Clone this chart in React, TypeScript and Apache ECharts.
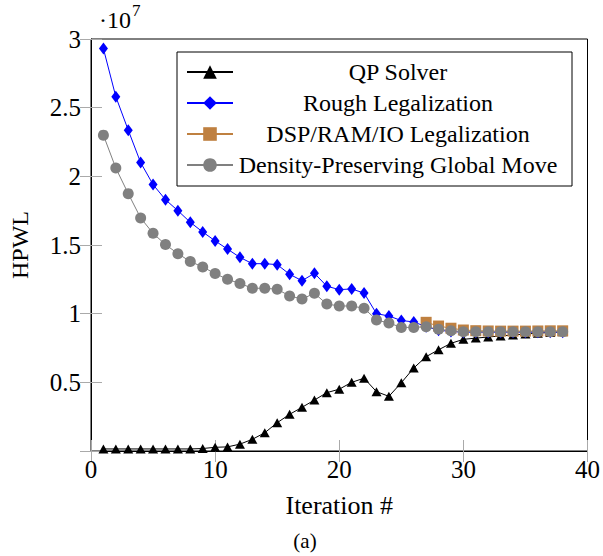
import React, { useEffect, useRef } from "react";
import * as echarts from "echarts";

// iteration numbers
const iterations = Array.from({ length: 38 }, (_, i) => i + 1);
const dspIterations = [27, 28, 29, 30, 31, 32, 33, 34, 35, 36, 37, 38];

// HPWL values in units of 10^7
const qpSolver = [
  0.015, 0.015, 0.015, 0.015, 0.015, 0.015, 0.015, 0.015, 0.018, 0.027,
  0.03, 0.05, 0.085, 0.133, 0.206, 0.267, 0.318, 0.371, 0.425, 0.45,
  0.5, 0.53, 0.432, 0.398, 0.497, 0.604, 0.687, 0.737, 0.784, 0.813,
  0.822, 0.83, 0.838, 0.845, 0.852, 0.858, 0.863, 0.868,
];
const roughLegalization = [
  2.93, 2.58, 2.336, 2.1, 1.94, 1.83, 1.75, 1.665, 1.595, 1.53,
  1.47, 1.41, 1.364, 1.364, 1.357, 1.287, 1.24, 1.294, 1.2, 1.175,
  1.18, 1.15, 1.0, 0.983, 0.95, 0.94, 0.905, 0.88, 0.87, 0.865,
  0.865, 0.865, 0.865, 0.865, 0.865, 0.865, 0.865, 0.865,
];
const dspLegalization = [
  0.937, 0.91, 0.894, 0.881, 0.876, 0.874, 0.873, 0.873, 0.873, 0.874, 0.875, 0.875,
];
const globalMove = [
  2.3, 2.06, 1.874, 1.697, 1.585, 1.503, 1.437, 1.38, 1.34, 1.292,
  1.25, 1.22, 1.185, 1.185, 1.178, 1.129, 1.107, 1.148, 1.07, 1.056,
  1.056, 1.039, 0.954, 0.932, 0.9, 0.9, 0.905, 0.886, 0.876, 0.869,
  0.869, 0.869, 0.869, 0.869, 0.869, 0.869, 0.869, 0.869,
];

const seriesNames = [
  "QP Solver",
  "Rough Legalization",
  "DSP/RAM/IO Legalization",
  "Density-Preserving Global Move",
];

const FONT = "Liberation Serif";

export default function App() {
  const ref = useRef<HTMLDivElement>(null);
  useEffect(() => {
    if (!ref.current) return;
    const chart = echarts.init(ref.current, null, { renderer: "svg" });
    const pairs = (xs: number[], ys: number[]) => xs.map((x, i) => [x, ys[i]]);
    const tick = { show: true, inside: true, length: 11, lineStyle: { color: "#aaa", width: 1 } };
    chart.setOption({
      animation: false,
      backgroundColor: "#fff",
      textStyle: { fontFamily: FONT },
      grid: {
        left: 90,
        top: 39,
        right: 15,
        bottom: 105,
        show: true,
        borderColor: "#000",
        borderWidth: 1,
        backgroundColor: "transparent",
      },
      xAxis: [
        {
          type: "value",
          min: 0,
          max: 40,
          interval: 10,
          name: "Iteration #",
          nameLocation: "middle",
          nameGap: 41,
          nameTextStyle: { fontSize: 26, color: "#000", fontFamily: FONT },
          axisLine: { show: true, lineStyle: { color: "#000", width: 1 } },
          axisTick: tick,
          axisLabel: { fontSize: 25, color: "#000", margin: 6, fontFamily: FONT },
          splitLine: { show: false },
        },
        {
          type: "value",
          position: "top",
          min: 0,
          max: 40,
          interval: 10,
          axisLine: { show: false },
          axisTick: tick,
          axisLabel: { show: false },
          splitLine: { show: false },
        },
      ],
      yAxis: [
        {
          type: "value",
          min: 0,
          max: 3,
          interval: 0.5,
          name: "HPWL",
          nameLocation: "middle",
          nameGap: 59,
          nameTextStyle: { fontSize: 24, color: "#000", fontFamily: FONT },
          axisLine: { show: true, lineStyle: { color: "#000", width: 1 } },
          axisTick: tick,
          axisLabel: {
            fontSize: 25,
            color: "#000",
            margin: 10,
            fontFamily: FONT,
            formatter: (v: number) => (v === 0 ? "" : String(v)),
          },
          splitLine: { show: false },
        },
        {
          type: "value",
          position: "right",
          min: 0,
          max: 3,
          interval: 0.5,
          axisLine: { show: false },
          axisTick: tick,
          axisLabel: { show: false },
          splitLine: { show: false },
        },
      ],
      legend: {
        orient: "vertical",
        left: 177,
        top: 52,
        data: seriesNames,
        backgroundColor: "#fff",
        borderColor: "#000",
        borderWidth: 1,
        borderRadius: 0,
        padding: [8, 14, 9, 9],
        itemWidth: 46,
        itemHeight: 17,
        itemGap: 7,
        selectedMode: false,
        formatter: (name: string) => `{c|${name}}`,
        textStyle: {
          color: "#000",
          fontFamily: FONT,
          fontSize: 24,
          rich: {
            c: { width: 320, align: "center", fontSize: 24, lineHeight: 24, fontFamily: FONT, color: "#000" },
          },
        },
      },
      graphic: [
        {
          type: "text",
          x: 99,
          y: 8,
          style: { text: "·10", fontSize: 24, fontFamily: FONT, fill: "#000" },
        },
        {
          type: "text",
          x: 132,
          y: 2,
          style: { text: "7", fontSize: 17, fontFamily: FONT, fill: "#000" },
        },
        {
          type: "text",
          x: 305,
          y: 541,
          style: {
            text: "(a)",
            fontSize: 21,
            fontFamily: FONT,
            fill: "#000",
            textAlign: "center",
            textVerticalAlign: "middle",
          },
        },
      ],
      series: [
        {
          name: seriesNames[0],
          type: "line",
          data: pairs(iterations, qpSolver),
          symbol: "triangle",
          symbolSize: [10, 9],
          lineStyle: { color: "#000", width: 1 },
          itemStyle: { color: "#000" },
        },
        {
          name: seriesNames[1],
          type: "line",
          data: pairs(iterations, roughLegalization),
          symbol: "diamond",
          symbolSize: [9, 12],
          lineStyle: { color: "#0000ff", width: 1 },
          itemStyle: { color: "#0000ff" },
        },
        {
          name: seriesNames[2],
          type: "line",
          data: pairs(dspIterations, dspLegalization),
          symbol: "rect",
          symbolSize: 11,
          lineStyle: { color: "#bf8040", width: 1 },
          itemStyle: { color: "#bf8040" },
        },
        {
          name: seriesNames[3],
          type: "line",
          data: pairs(iterations, globalMove),
          symbol: "circle",
          symbolSize: 11,
          lineStyle: { color: "#808080", width: 1 },
          itemStyle: { color: "#808080" },
        },
      ],
    });
    return () => chart.dispose();
  }, []);
  return <div ref={ref} style={{ width: 603, height: 556, position: "absolute", left: 0, top: 0 }} />;
}
